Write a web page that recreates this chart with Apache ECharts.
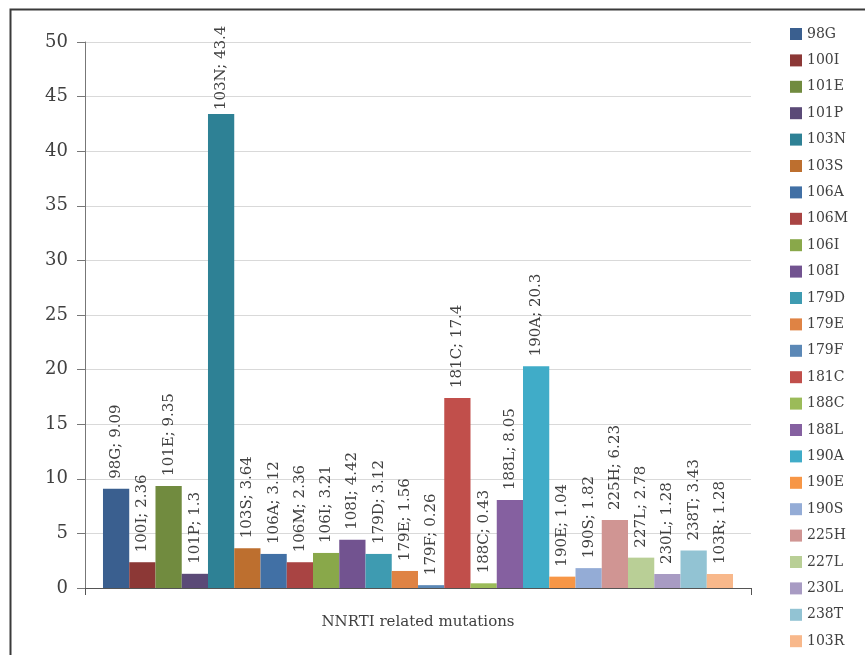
<!DOCTYPE html>
<html>
<head>
<meta charset="utf-8">
<script src="https://cdn.jsdelivr.net/npm/echarts@6/dist/echarts.min.js"></script>
<style>html,body{margin:0;padding:0;background:#fff}#c{width:865px;height:655px}</style>
</head>
<body>
<div id="c"></div>
<script>
const categories = ['NNRTI related mutations'];
const mutations = ['98G','100I','101E','101P','103N','103S','106A','106M','106I','108I','179D','179E','179F','181C','188C','188L','190A','190E','190S','225H','227L','230L','238T','103R'];
const values = [9.09,2.36,9.35,1.3,43.4,3.64,3.12,2.36,3.21,4.42,3.12,1.56,0.26,17.4,0.43,8.05,20.3,1.04,1.82,6.23,2.78,1.28,3.43,1.28];
const colors = ['#3a5f8f','#8c3836','#718b3f','#5b4a77','#2e8195','#bd6f2f','#4170a5','#a94443','#89a84a','#725390','#3e9bb1','#df8344','#5b88b6','#c14f4b','#9bbb59','#8560a0','#40acc8','#f79646','#94acd6','#d09593','#b9cf96','#a89bc3','#92c3d3','#f8b88b'];
const yTicks = {min:0, max:50, interval:5};

const font = 'DejaVu Serif';
const txt = '#404040';
const series = mutations.map((m,i)=>({
  name:m, type:'bar', data:[values[i]],
  barGap:'0%', barCategoryGap:'5.4%',
  itemStyle:{color:colors[i]},
  label:{show:true, position:'top', rotate:90, align:'left', verticalAlign:'middle',
    distance: values[i] > 40 ? 4 : 10,
    fontFamily:font, fontSize:15, color:txt,
    formatter:p=>p.seriesName+'; '+p.value}
}));

const chart = echarts.init(document.getElementById('c'));
chart.setOption({
  animation:false,
  color:colors,
  graphic:[{type:'rect', left:8, top:7, shape:{width:900,height:700}, style:{fill:'none', stroke:'#3a3a3a', lineWidth:2}, silent:true}],
  grid:{left:85, top:42, right:114, bottom:67},
  legend:{orient:'vertical', left:785, top:22, height:640, itemWidth:12, itemHeight:12, itemGap:12.4, icon:'rect',
    textStyle:{fontFamily:font, fontSize:14, color:txt, lineHeight:14}, data:mutations},
  xAxis:{type:'category', data:categories,
    axisLine:{lineStyle:{color:'#555'}},
    axisTick:{show:true, length:7, lineStyle:{color:'#555'}},
    axisLabel:{show:false},
    name:categories[0], nameLocation:'middle', nameGap:27,
    nameTextStyle:{fontFamily:font, fontSize:15, color:txt}},
  yAxis:{type:'value', min:yTicks.min, max:yTicks.max, interval:yTicks.interval,
    axisLine:{show:true, lineStyle:{color:'#777'}},
    axisTick:{show:true, length:8, lineStyle:{color:'#777'}},
    axisLabel:{fontFamily:font, fontSize:18, color:txt, margin:17},
    splitLine:{lineStyle:{color:'#d9d9d9'}}},
  series:series
});
</script>
</body>
</html>
